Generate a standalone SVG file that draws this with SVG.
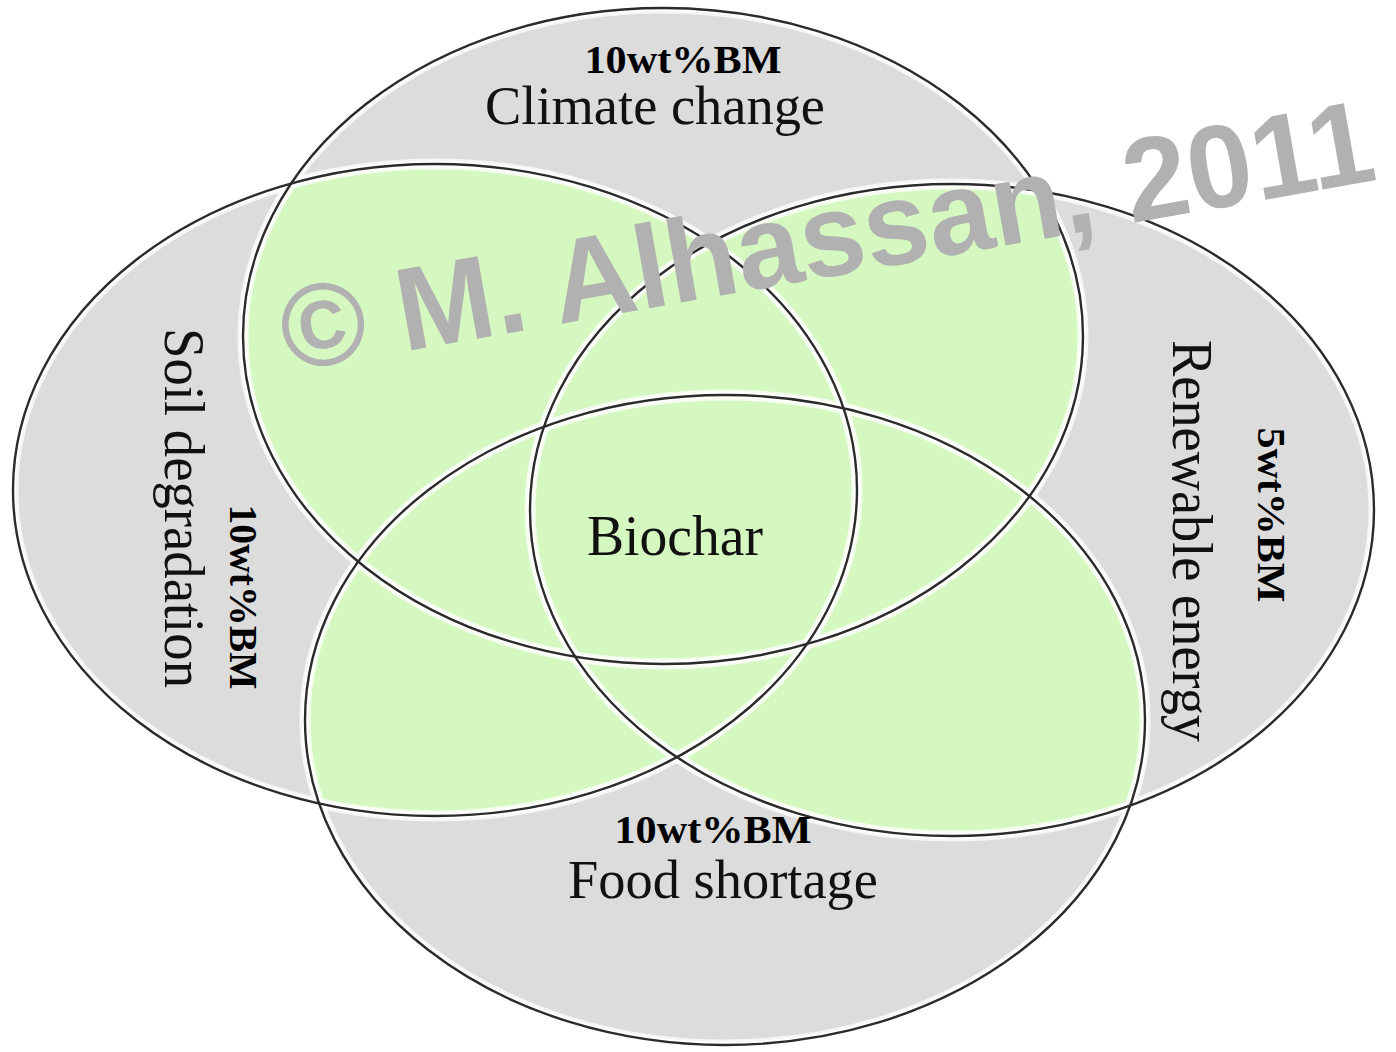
<svg xmlns="http://www.w3.org/2000/svg" xmlns:xlink="http://www.w3.org/1999/xlink" width="1396" height="1052" viewBox="0 0 1396 1052">
<style>
.base{fill:#dcdcdc;}
.ov{fill:#d5f8c1;}
.halo{fill:none;stroke:#ffffff;stroke-width:11;stroke-opacity:0.75;}
.halo2{fill:none;stroke:#ffffff;stroke-width:6;}
.line{fill:none;stroke:#2b2b2b;stroke-width:2.4;}
.lbl{font-family:"Liberation Serif","Times New Roman",serif;font-size:54px;fill:#111;text-anchor:middle;}
.wt{font-family:"Liberation Serif","Times New Roman",serif;font-size:40px;font-weight:bold;fill:#000;text-anchor:middle;}
.wm{font-family:"Liberation Sans",Arial,sans-serif;font-size:118px;font-weight:bold;fill:#b1b1b1;}
</style>
<defs>
<ellipse id="eT" cx="663" cy="336" rx="420" ry="328"/>
<ellipse id="eL" cx="435" cy="490" rx="422" ry="326"/>
<ellipse id="eR" cx="952" cy="510" rx="422" ry="326"/>
<ellipse id="eB" cx="725" cy="720" rx="420" ry="325"/>
<clipPath id="cL"><use xlink:href="#eL"/></clipPath>
<clipPath id="cR"><use xlink:href="#eR"/></clipPath>
<clipPath id="cB"><use xlink:href="#eB"/></clipPath>
</defs>
<rect width="1396" height="1052" fill="#ffffff"/>
<g id="fills">
<use xlink:href="#eT" class="base"/>
<use xlink:href="#eL" class="base"/>
<use xlink:href="#eR" class="base"/>
<use xlink:href="#eB" class="base"/>
<use xlink:href="#eT" class="ov" clip-path="url(#cL)"/>
<use xlink:href="#eT" class="ov" clip-path="url(#cR)"/>
<use xlink:href="#eT" class="ov" clip-path="url(#cB)"/>
<use xlink:href="#eL" class="ov" clip-path="url(#cR)"/>
<use xlink:href="#eL" class="ov" clip-path="url(#cB)"/>
<use xlink:href="#eR" class="ov" clip-path="url(#cB)"/>
</g>
<g id="halos">
<use xlink:href="#eT" class="halo"/>
<use xlink:href="#eL" class="halo"/>
<use xlink:href="#eR" class="halo"/>
<use xlink:href="#eB" class="halo"/>
<use xlink:href="#eT" class="halo2"/>
<use xlink:href="#eL" class="halo2"/>
<use xlink:href="#eR" class="halo2"/>
<use xlink:href="#eB" class="halo2"/>
</g>
<g id="climate-change">
<use xlink:href="#eT" class="line"/>
<text class="wt" x="683" y="73" textLength="197" lengthAdjust="spacingAndGlyphs">10wt%BM</text>
<text class="lbl" x="655" y="124" textLength="340" lengthAdjust="spacingAndGlyphs">Climate change</text>
</g>
<g id="soil-degradation">
<use xlink:href="#eL" class="line"/>
<text class="lbl" transform="translate(165,508) rotate(90)" style="font-size:56px" textLength="360" lengthAdjust="spacingAndGlyphs">Soil degradation</text>
<text class="wt" transform="translate(230,597) rotate(90)" textLength="185" lengthAdjust="spacingAndGlyphs">10wt%BM</text>
</g>
<g id="renewable-energy">
<use xlink:href="#eR" class="line"/>
<text class="lbl" transform="translate(1173,541) rotate(90)" style="font-size:56px" textLength="402" lengthAdjust="spacingAndGlyphs">Renewable energy</text>
<text class="wt" transform="translate(1258,515) rotate(90)" textLength="175" lengthAdjust="spacingAndGlyphs">5wt%BM</text>
</g>
<g id="food-shortage">
<use xlink:href="#eB" class="line"/>
<text class="wt" x="713" y="843" textLength="197" lengthAdjust="spacingAndGlyphs">10wt%BM</text>
<text class="lbl" x="723" y="898" textLength="310" lengthAdjust="spacingAndGlyphs">Food shortage</text>
</g>
<g id="biochar">
<text class="lbl" x="675" y="555" style="font-size:56px" textLength="176" lengthAdjust="spacingAndGlyphs">Biochar</text>
</g>
<g id="watermark">
<text class="wm" transform="translate(288,372) rotate(-10)" textLength="1108" lengthAdjust="spacingAndGlyphs">© M. Alhassan, 2011</text>
</g>
</svg>
